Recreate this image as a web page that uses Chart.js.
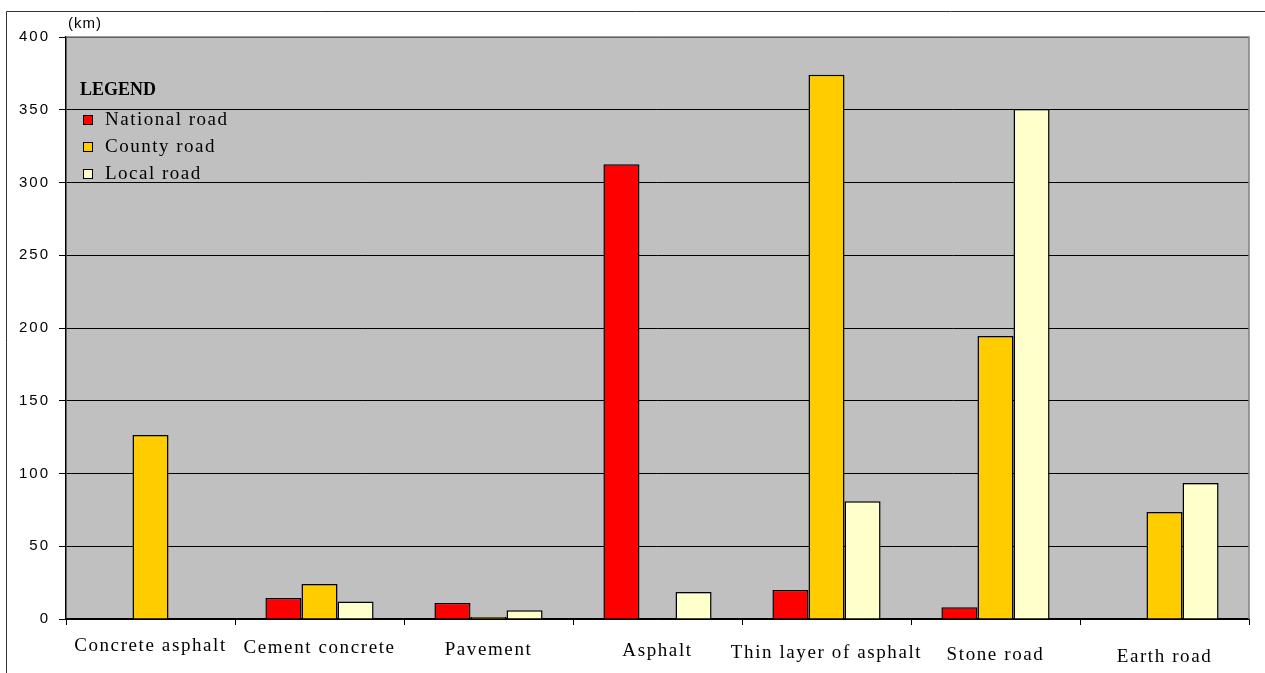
<!DOCTYPE html>
<html lang="en">
<head>
    <meta charset="UTF-8">
    <title>Road length by surface type</title>
    <style>
        body {
            margin: 0;
            padding: 0;
            background-color: #ffffff;
        }

        .chart-container {
            width: 1265px;
            height: 673px;
            position: relative;
        }
    </style>
</head>
<body>
    <div class="chart-container">
        <canvas id="roadChart" width="1265" height="673"></canvas>
    </div>

    <script src="https://cdn.jsdelivr.net/npm/chart.js"></script>
    <script>
        const surfaces = ['Concrete asphalt', 'Cement concrete', 'Pavement', 'Asphalt', 'Thin layer of asphalt', 'Stone road', 'Earth road'];
        const nationalRoad = [0, 14.5, 11, 312.5, 20, 8, 0];
        const countyRoad = [126.5, 24, 1.4, 0, 374, 194.5, 73.5];
        const localRoad = [0, 12, 6, 18.5, 81, 350.5, 93.5];
        const seriesNames = ['National road', 'County road', 'Local road'];
        const seriesColors = ['#ff0000', '#ffcc00', '#ffffcc'];
        const yTicks = [0, 50, 100, 150, 200, 250, 300, 350, 400];

        const serif = '"Liberation Serif", "Times New Roman", serif';
        const sans = '"Liberation Sans", Arial, sans-serif';

        const datasets = [nationalRoad, countyRoad, localRoad].map((values, i) => ({
            label: seriesNames[i],
            data: values,
            backgroundColor: seriesColors[i],
            borderColor: '#000000',
            // no outline for empty bars
            borderWidth: c => (c.raw === 0 ? 0 : 1.5),
            borderSkipped: 'bottom',
            categoryPercentage: 0.64,
            barPercentage: 1.0
        }));

        // background, frame, x labels, legend and unit label
        const decorations = {
            id: 'decorations',
            beforeDraw(chart) {
                const { ctx, chartArea } = chart;
                ctx.save();
                ctx.fillStyle = '#c0c0c0';
                ctx.fillRect(chartArea.left, chartArea.top, chartArea.right - chartArea.left, chartArea.bottom - chartArea.top);
                ctx.strokeStyle = '#333333';
                ctx.lineWidth = 1;
                ctx.beginPath();
                ctx.moveTo(6.5, 673);
                ctx.lineTo(6.5, 11.5);
                ctx.lineTo(1265, 11.5);
                ctx.stroke();
                ctx.restore();
                ctx.letterSpacing = '2px';
            },
            afterDraw(chart) {
                const { ctx, chartArea } = chart;
                const xScale = chart.scales.x;
                ctx.save();
                ctx.letterSpacing = '0px';

                // gray plot border top / right
                ctx.strokeStyle = '#808080';
                ctx.lineWidth = 1.5;
                ctx.beginPath();
                ctx.moveTo(chartArea.left, chartArea.top);
                ctx.lineTo(chartArea.right, chartArea.top);
                ctx.lineTo(chartArea.right, chartArea.bottom);
                ctx.stroke();

                // category labels
                ctx.fillStyle = '#000000';
                ctx.font = '19px ' + serif;
                ctx.letterSpacing = '1.6px';
                ctx.textAlign = 'center';
                ctx.textBaseline = 'middle';
                surfaces.forEach((label, i) => {
                    const x = xScale.getPixelForValue(i);
                    ctx.fillText(label, x, 646 + i * 1.8);
                });

                // unit
                ctx.letterSpacing = '1px';
                ctx.font = '15px ' + sans;
                ctx.textAlign = 'left';
                ctx.fillText('(km)', 68, 24);

                // legend
                ctx.letterSpacing = '0px';
                ctx.font = 'bold 18px ' + serif;
                ctx.fillText('LEGEND', 80, 90);
                ctx.font = '19px ' + serif;
                ctx.letterSpacing = '1.5px';
                chart.data.datasets.forEach((ds, i) => {
                    const y = 120 + i * 27;
                    ctx.fillStyle = ds.backgroundColor;
                    ctx.fillRect(83.5, y - 4.5, 9, 9);
                    ctx.strokeStyle = '#000000';
                    ctx.lineWidth = 1;
                    ctx.strokeRect(83.5, y - 4.5, 9, 9);
                    ctx.fillStyle = '#000000';
                    ctx.fillText(ds.label, 105, y);
                });
                ctx.restore();
            }
        };

        const ctx = document.getElementById('roadChart').getContext('2d');
        const roadChart = new Chart(ctx, {
            type: 'bar',
            data: {
                labels: surfaces,
                datasets: datasets
            },
            options: {
                responsive: false,
                animation: false,
                layout: {
                    padding: { top: 37, right: 16, bottom: 0, left: 0 }
                },
                plugins: {
                    legend: { display: false },
                    tooltip: { enabled: false }
                },
                scales: {
                    x: {
                        afterFit: scale => { scale.height = 54; },
                        grid: {
                            offset: true,
                            drawOnChartArea: false,
                            color: '#000000',
                            tickLength: 6
                        },
                        border: { color: '#000000', width: 1.5 },
                        ticks: { display: false }
                    },
                    y: {
                        min: 0,
                        max: 400,
                        afterFit: scale => { scale.width = 66; },
                        afterBuildTicks: scale => {
                            scale.ticks = yTicks.map(v => ({ value: v }));
                        },
                        grid: {
                            color: '#000000',
                            lineWidth: 1,
                            tickLength: 7
                        },
                        border: { color: '#000000', width: 1.5 },
                        ticks: {
                            padding: 9,
                            color: '#000000',
                            font: { family: sans, size: 15 }
                        }
                    }
                }
            },
            plugins: [decorations]
        });
    </script>
</body>
</html>
